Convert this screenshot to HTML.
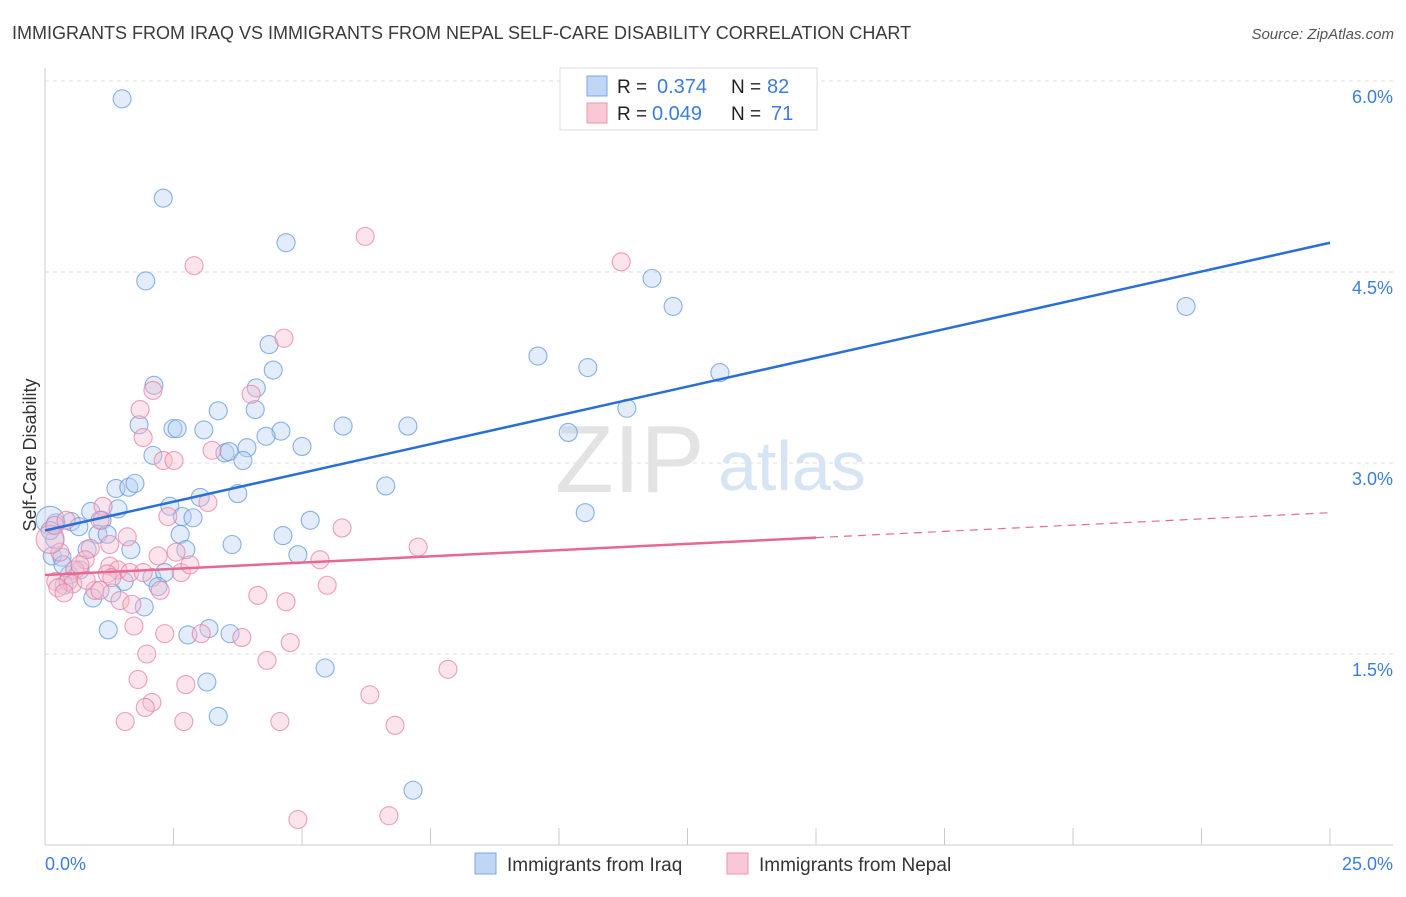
<!DOCTYPE html>
<html><head><meta charset="utf-8"><style>
body{margin:0;background:#fff;font-family:"Liberation Sans",sans-serif;}
svg text{font-family:"Liberation Sans",sans-serif;}
</style></head><body>
<svg id="chart" width="1406" height="892">
<text x="12" y="39" font-size="18" fill="#3a3a3a">IMMIGRANTS FROM IRAQ VS IMMIGRANTS FROM NEPAL SELF-CARE DISABILITY CORRELATION CHART</text>
<text x="1394" y="39" font-size="15" fill="#555" font-style="italic" text-anchor="end">Source: ZipAtlas.com</text>
<g id="grid"></g>
<text x="555" y="492" font-size="96" fill="#e3e3e3" font-family="Liberation Serif">ZIP</text>
<text x="718" y="490" font-size="70" fill="#d6e4f4">atlas</text>
<g id="pts"></g>
<g id="lines"></g>
<text x="36" y="455" font-size="18" fill="#333" text-anchor="middle" transform="rotate(-90 36 455)">Self-Care Disability</text>
<text x="45" y="870" font-size="18" fill="#3b7ddd">0.0%</text>
<text x="1393" y="870" font-size="18" fill="#3b7ddd" text-anchor="end">25.0%</text>
<g>
<rect x="560" y="68" width="257" height="62" fill="#fff" stroke="#ddd"/>
<rect x="587" y="76" width="20" height="20" fill="#c0d6f4" stroke="#7aa7e6"/>
<text x="617" y="93" font-size="19" fill="#222">R =</text>
<text x="657" y="93" font-size="20" fill="#3b7ddd">0.374</text>
<text x="731" y="93" font-size="19" fill="#222">N =</text>
<text x="767" y="93" font-size="20" fill="#3b7ddd">82</text>
<rect x="587" y="103" width="20" height="20" fill="#f8c8d6" stroke="#eb96b2"/>
<text x="617" y="120" font-size="19" fill="#222">R =</text>
<text x="652" y="120" font-size="20" fill="#3b7ddd">0.049</text>
<text x="731" y="120" font-size="19" fill="#222">N =</text>
<text x="771" y="120" font-size="20" fill="#3b7ddd">71</text>
</g>
<g>
<rect x="475" y="853" width="21" height="21" fill="#c0d6f4" stroke="#7aa7e6"/>
<text x="507" y="871" font-size="19" fill="#333">Immigrants from Iraq</text>
<rect x="727" y="853" width="21" height="21" fill="#f8c8d6" stroke="#eb96b2"/>
<text x="759" y="871" font-size="19" fill="#333">Immigrants from Nepal</text>
</g>
</svg>
<script>
const yTicks=[1.5,3.0,4.5,6.0];
const yTickLabels=["1.5%","3.0%","4.5%","6.0%"];
const xTicks=[0,2.5,5,7.5,10,12.5,15,17.5,20,22.5,25];
const iraqX=[1.50,2.30,4.69,1.96,11.81,12.22,22.20,4.36,9.59,10.56,13.13,2.12,4.11,4.44,3.37,4.09,11.32,1.83,2.49,2.57,3.09,4.59,5.80,7.06,4.30,10.18,3.50,3.58,3.93,5.00,2.10,3.85,6.63,1.38,1.63,1.75,3.75,3.02,2.43,0.89,1.42,2.67,2.88,5.16,10.51,1.11,0.51,0.21,0.66,1.03,1.21,2.63,4.63,3.64,1.67,2.74,4.92,0.14,0.33,0.82,1.54,2.08,2.33,0.47,0.93,1.30,1.93,2.20,1.23,2.78,3.19,3.60,5.45,3.15,3.37,7.16,0.10,0.19,0.10,0.35,0.68,0.37];
const iraqY=[5.86,5.08,4.73,4.43,4.45,4.23,4.23,3.93,3.84,3.75,3.71,3.61,3.59,3.73,3.41,3.42,3.43,3.30,3.27,3.27,3.26,3.25,3.29,3.29,3.21,3.24,3.08,3.09,3.12,3.13,3.06,3.02,2.82,2.80,2.81,2.84,2.76,2.73,2.66,2.62,2.64,2.58,2.57,2.55,2.61,2.55,2.54,2.53,2.50,2.44,2.44,2.44,2.43,2.36,2.32,2.32,2.28,2.27,2.26,2.32,2.07,2.10,2.14,2.12,1.94,1.98,1.87,2.03,1.69,1.65,1.70,1.66,1.39,1.28,1.01,0.43,2.55,2.40,2.47,2.20,2.16,2.04];
const nepalX=[6.23,11.21,2.90,4.65,4.01,1.85,2.10,1.91,2.30,2.51,3.25,3.17,1.13,2.39,5.78,7.26,1.07,1.60,0.88,2.20,2.55,5.35,0.29,0.78,0.58,1.26,1.42,1.65,1.91,2.65,1.21,1.30,0.21,0.45,0.54,0.25,0.37,0.97,1.46,1.69,2.24,5.49,4.14,4.69,1.73,2.33,3.04,3.83,4.77,1.98,4.32,7.84,1.81,2.74,2.08,1.95,6.32,1.56,2.70,4.57,6.81,4.92,6.69,0.10,0.19,0.80,1.07,2.82,1.26,0.68,0.41];
const nepalY=[4.78,4.58,4.55,3.98,3.54,3.42,3.57,3.20,3.02,3.02,3.10,2.69,2.66,2.58,2.49,2.34,2.55,2.42,2.33,2.27,2.30,2.24,2.30,2.24,2.16,2.19,2.16,2.14,2.14,2.14,2.13,2.10,2.07,2.07,2.05,2.02,1.98,2.00,1.92,1.89,2.00,2.04,1.96,1.91,1.72,1.66,1.66,1.63,1.59,1.50,1.45,1.38,1.30,1.26,1.12,1.08,1.18,0.97,0.97,0.97,0.94,0.20,0.23,2.40,2.51,2.08,2.00,2.20,2.36,2.20,2.55];
const iraqTrend=[2.47,4.73];
const nepalTrend=[2.12,2.61];
const nepalSolidEnd=15;
const NS="http://www.w3.org/2000/svg";
const X0=45,X1=1330,YB=845,PXPERPCT=127.33;
const sx=v=>X0+v/25*(X1-X0);
const sy=v=>YB-v*PXPERPCT;
function mk(t,a,p){const e=document.createElementNS(NS,t);for(const k in a)e.setAttribute(k,a[k]);p.appendChild(e);return e;}
const grid=document.getElementById('grid');
mk('line',{x1:45,y1:68,x2:45,y2:845,stroke:'#ccc'},grid);
mk('line',{x1:45,y1:845,x2:1393,y2:845,stroke:'#ccc'},grid);
yTicks.forEach((t,i)=>{
 const l=mk('line',{x1:45,y1:sy(t),x2:1393,y2:sy(t),stroke:'#ddd','stroke-dasharray':'4,4'},grid);
 
 
 const tx=mk('text',{x:1393,y:sy(t)+22,'font-size':18,fill:'#3b7ddd','text-anchor':'end'},grid);
 tx.textContent=yTickLabels[i];
 
 
});
xTicks.forEach(t=>{
 const l=mk('line',{x1:sx(t),y1:828,x2:sx(t),y2:845,stroke:'#ccc'},grid);
 
 
});
const pts=document.getElementById('pts');
function drawSeries(xs,ys,fill,stroke,big,name){
 xs.forEach((x,i)=>{
  const c=mk('circle',{cx:sx(x),cy:sy(ys[i]),r:(i===big?14:9),fill:fill,'fill-opacity':0.4,stroke:stroke,'stroke-width':1.1,'stroke-opacity':0.7},pts);
  
  
 });
}
drawSeries(iraqX,iraqY,'#b7d0f2','#5a93e0',76,'iraq-point');
drawSeries(nepalX,nepalY,'#f6bccd','#e8799e',63,'nepal-point');
const lines=document.getElementById('lines');
const bl=mk('line',{x1:sx(0),y1:sy(iraqTrend[0]),x2:sx(25),y2:sy(iraqTrend[1]),stroke:'#2a6fd6','stroke-width':2.5},lines);


const ny=x=>nepalTrend[0]+(nepalTrend[1]-nepalTrend[0])*x/25;
const pl=mk('line',{x1:sx(0),y1:sy(ny(0)),x2:sx(nepalSolidEnd),y2:sy(ny(nepalSolidEnd)),stroke:'#e8688f','stroke-width':2.5},lines);


const pd=mk('line',{x1:sx(nepalSolidEnd),y1:sy(ny(nepalSolidEnd)),x2:sx(25),y2:sy(ny(25)),stroke:'#e8688f','stroke-width':1.2,'stroke-dasharray':'8,6'},lines);


</script>
</body></html>
